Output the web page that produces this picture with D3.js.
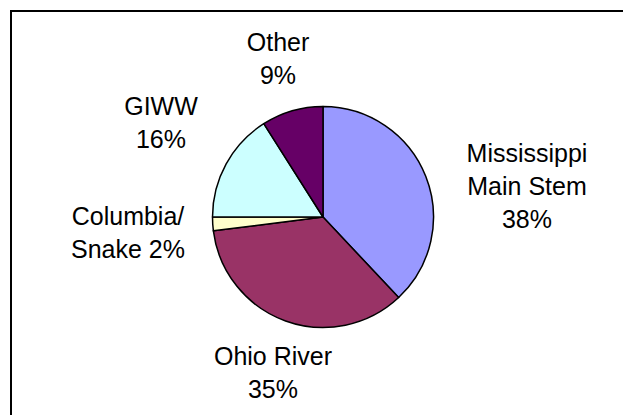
<!DOCTYPE html>
<html><head><meta charset="utf-8">
<script src="https://cdn.jsdelivr.net/npm/d3@7"></script>
<style>html,body{margin:0;padding:0;background:#fff;overflow:hidden}</style>
</head><body>
<svg id="chart" width="623" height="415"></svg>
<script>
const categories = ["Mississippi Main Stem", "Ohio River", "Columbia/ Snake", "GIWW", "Other"];
const values = [38, 35, 2, 16, 9];
const colors = ["#9999FF", "#993366", "#FFFFCC", "#CCFFFF", "#660066"];
// label text lines (as shown in the chart)
const labelLines = [
  ["Mississippi", "Main Stem", "38%"],
  ["Ohio River", "35%"],
  ["Columbia/", "Snake 2%"],
  ["GIWW", "16%"],
  ["Other", "9%"]
];

// layout (label anchor: centre x, first baseline y)
const cx = 323, cy = 217, radius = 110.5;
const labelAnchors = [[527, 162], [273, 365], [128, 225], [161, 115], [278, 51]];
const lineH = 33, fontSize = 25;

const svg = d3.select("#chart");
svg.append("rect").attr("x", 11).attr("y", 11).attr("width", 700).attr("height", 500)
  .attr("fill", "#fff").attr("stroke", "#000").attr("stroke-width", 2);

const pie = d3.pie().sort(null).value(d => d)(values);
const arc = d3.arc().innerRadius(0).outerRadius(radius);
const g = svg.append("g").attr("transform", `translate(${cx},${cy})`);
g.selectAll("path").data(pie).join("path")
  .attr("d", arc).attr("fill", (d, i) => colors[i])
  .attr("stroke", "#000").attr("stroke-width", 1.5).attr("stroke-linejoin", "round");

labelLines.forEach((lines, i) => {
  const [lx, ly] = labelAnchors[i];
  const t = svg.append("text").attr("text-anchor", "middle")
    .attr("font-family", "Liberation Sans, Arial, sans-serif").attr("font-size", fontSize).attr("fill", "#000");
  lines.forEach((s, k) => {
    t.append("tspan").attr("x", lx).attr("y", ly + k * lineH).text(s);
  });
});
</script>
</body></html>
